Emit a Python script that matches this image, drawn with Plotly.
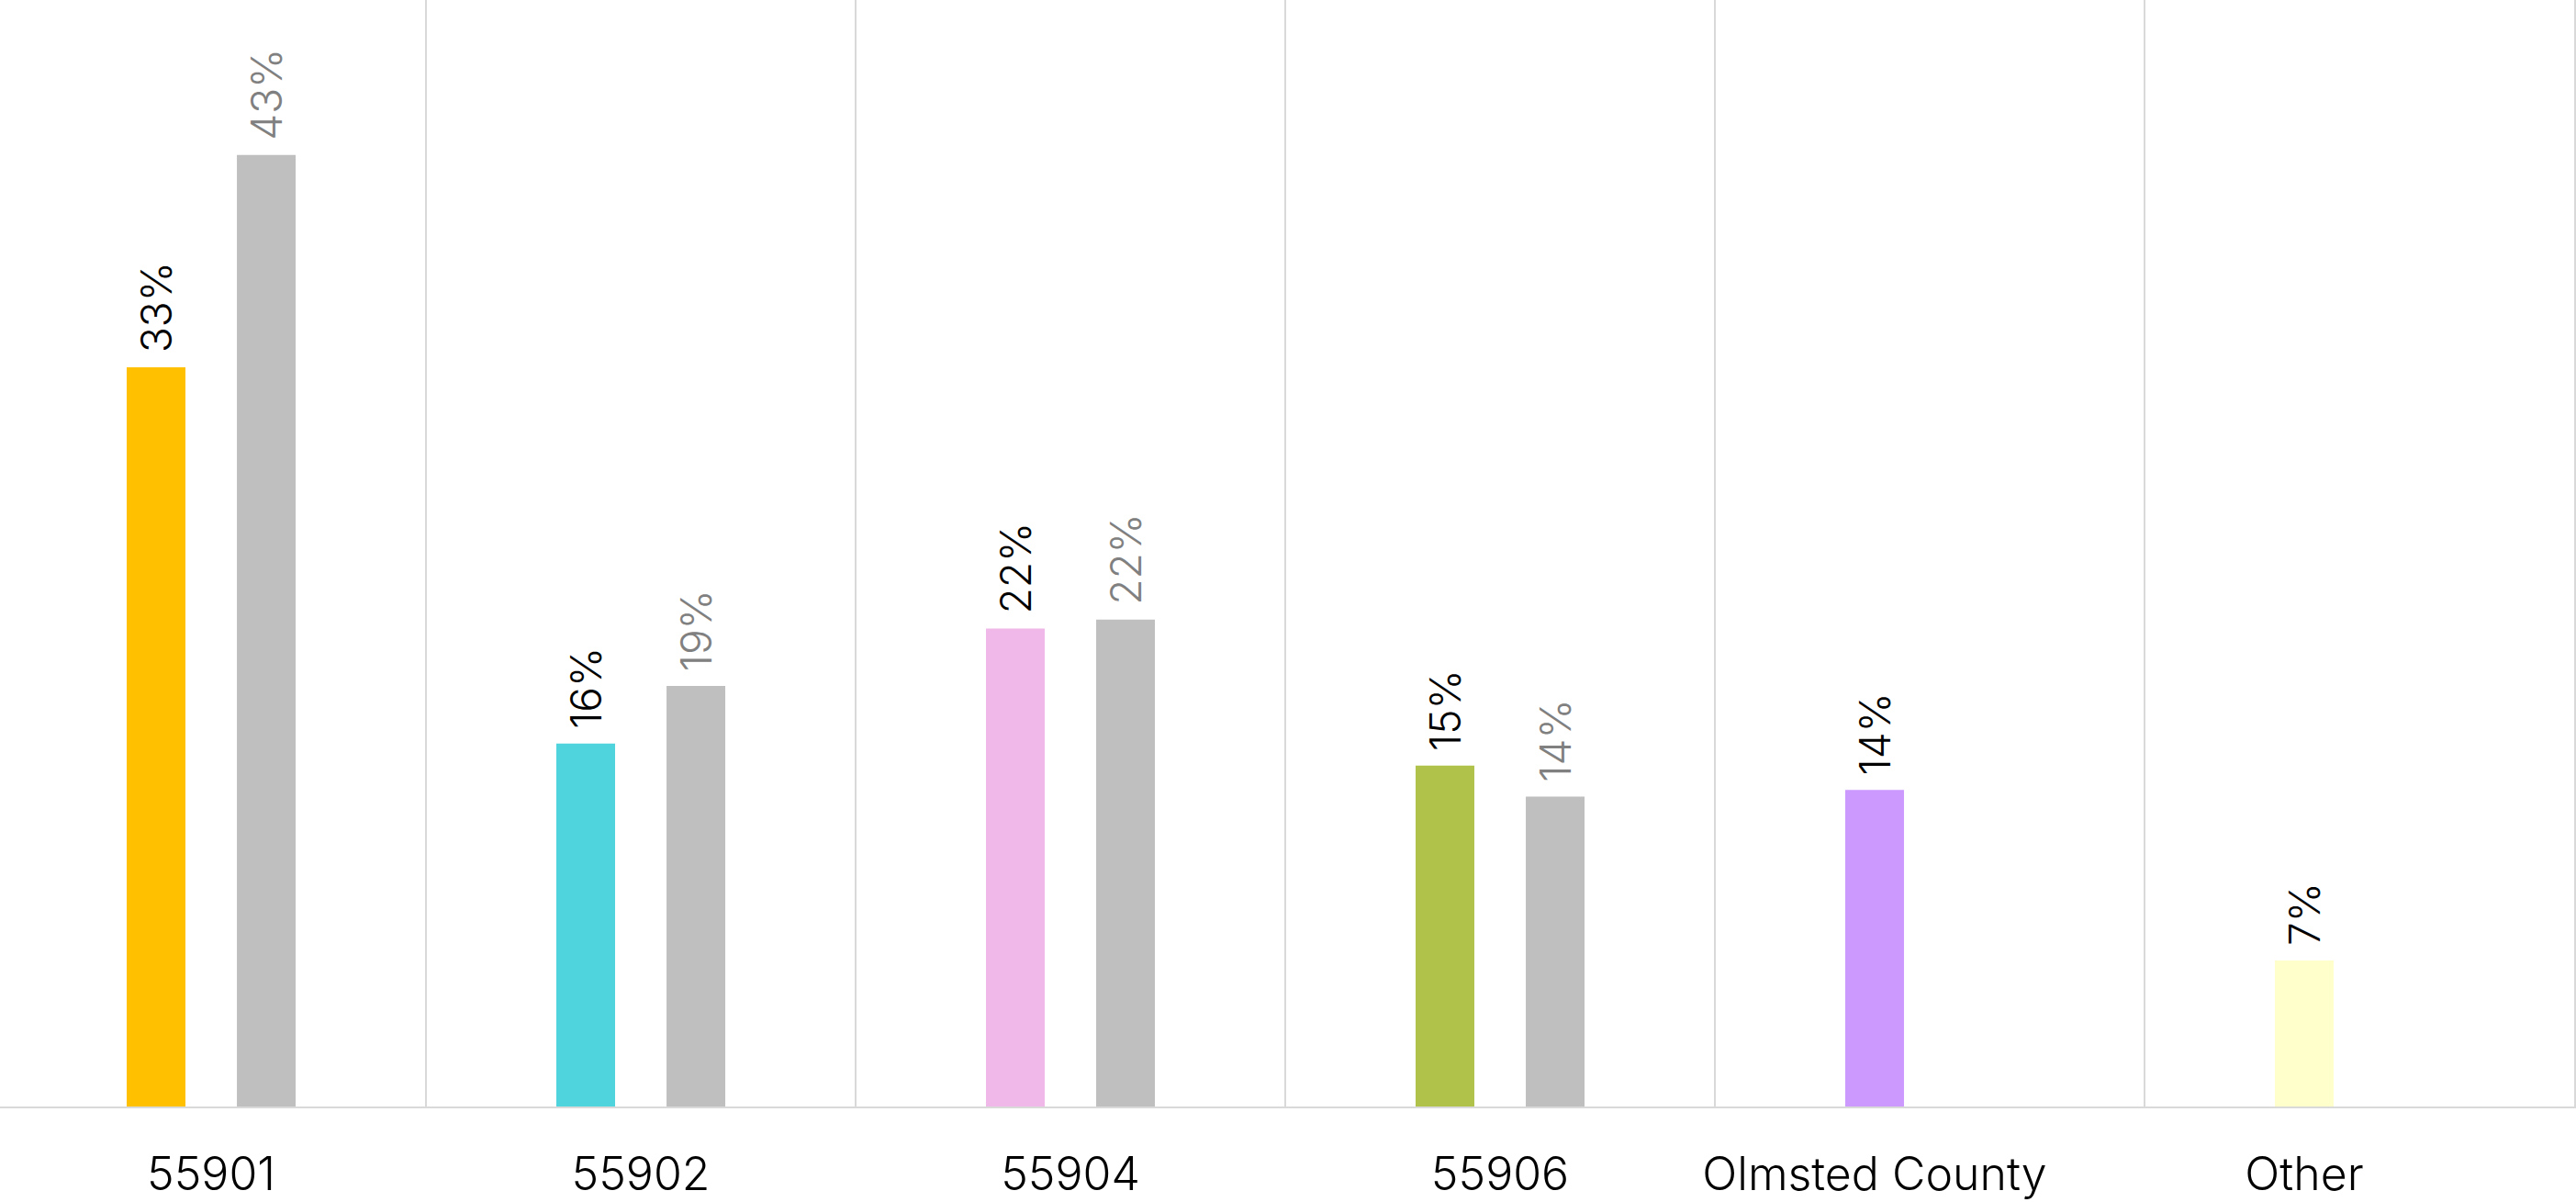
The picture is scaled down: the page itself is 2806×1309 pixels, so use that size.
import plotly.graph_objects as go

categories = ["55901", "55902", "55904", "55906", "Olmsted County", "Other"]
series_a = [33.4, 16.4, 21.6, 15.4, 14.3, 6.6]
series_b = [43.0, 19.0, 22.0, 14.0, None, None]
colors_a = ["#FFC000", "#4FD3DC", "#F0B8E8", "#B0C24A", "#CC99FF", "#FFFFCC"]
color_b = "#BFBFBF"

FONT = "Inter, 'Open Sans', sans-serif"
BARGAP = 0.487
GROUPGAP = 0.467

def labels(vals):
    return ["" if v is None else f" {round(v):d}%" for v in vals]

fig = go.Figure()
fig.add_trace(go.Bar(
    x=categories, y=series_a, marker=dict(color=colors_a, line=dict(width=0)),
    text=labels(series_a), textposition="outside", textangle=-90,
    constraintext="none",
    textfont=dict(family=FONT, size=46, color="#000000", weight=300),
    cliponaxis=False, showlegend=False,
))
fig.add_trace(go.Bar(
    x=categories, y=series_b, marker=dict(color=color_b, line=dict(width=0)),
    text=labels(series_b), textposition="outside", textangle=-90,
    constraintext="none",
    textfont=dict(family=FONT, size=46, color="#808080", weight=300),
    cliponaxis=False, showlegend=False,
))
# dummy empty trace to carry the label axis
fig.add_trace(go.Scatter(x=[], y=[], xaxis="x2", showlegend=False, hoverinfo="skip"))

# label positions: centred under the group, or under the single bar when only one series exists
offset = (1 - BARGAP) / 4
tickvals = [i - offset if b is None else i for i, b in enumerate(series_b)]

xr = [-0.4915, 5.5]
fig.update_layout(
    width=2806, height=1309,
    margin=dict(l=0, r=2, t=0, b=104, autoexpand=False),
    paper_bgcolor="white", plot_bgcolor="white",
    barmode="group", bargap=BARGAP, bargroupgap=GROUPGAP,
    uniformtext=dict(mode=False),
    xaxis=dict(
        type="category", range=xr, tickson="boundaries",
        showgrid=True, gridcolor="#D9D9D9", gridwidth=2,
        showticklabels=False, ticks="", automargin=False,
        showline=True, linecolor="#D9D9D9", linewidth=2,
        zeroline=False,
    ),
    xaxis2=dict(
        overlaying="x", anchor="y", side="bottom", range=xr,
        tickmode="array", tickvals=tickvals, ticktext=categories,
        showgrid=False, zeroline=False, ticks="", showline=False,
        automargin=False, ticklabelstandoff=40,
        tickfont=dict(family=FONT, size=50, color="#000000", weight=300),
    ),
    yaxis=dict(range=[0, 50], side="right", showgrid=False, zeroline=False,
               showticklabels=False, ticks="", automargin=False,
               showline=True, linecolor="#D9D9D9", linewidth=2),
)

fig.write_html("out.html")
